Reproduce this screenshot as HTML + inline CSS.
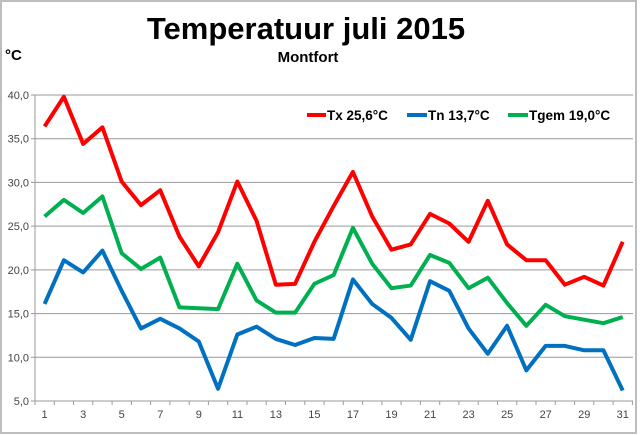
<!DOCTYPE html>
<html><head><meta charset="utf-8"><style>
html,body{margin:0;padding:0;background:#fff}
svg{display:block;font-family:"Liberation Sans",Arial,sans-serif}
</style></head><body>
<svg width="640" height="435" viewBox="0 0 640 435" xmlns="http://www.w3.org/2000/svg">
<rect x="0" y="0" width="640" height="435" fill="#fff"/>
<rect x="1" y="1" width="635" height="432" fill="none" stroke="#bdbdbd" stroke-width="2"/>
<text x="306" y="39" text-anchor="middle" font-size="31" font-weight="bold" fill="#000">Temperatuur juli 2015</text>
<text x="308" y="62" text-anchor="middle" font-size="15" font-weight="bold" fill="#000">Montfort</text>
<text x="5" y="60" font-size="15" font-weight="bold" fill="#000">°C</text>
<g stroke="#9a9a9a" stroke-width="1">
<line x1="35" y1="95" x2="633" y2="95"/><line x1="35" y1="138.7" x2="633" y2="138.7"/>
<line x1="35" y1="182.4" x2="633" y2="182.4"/><line x1="35" y1="226.1" x2="633" y2="226.1"/>
<line x1="35" y1="269.9" x2="633" y2="269.9"/><line x1="35" y1="313.6" x2="633" y2="313.6"/>
<line x1="35" y1="357.3" x2="633" y2="357.3"/><line x1="35" y1="401" x2="633" y2="401"/>
<line x1="35" y1="95" x2="35" y2="401"/>
</g>
<g stroke="#9a9a9a" stroke-width="1" id="ticks">
<path d="M31 95h4M31 138.7h4M31 182.4h4M31 226.1h4M31 269.9h4M31 313.6h4M31 357.3h4M31 401h4"/>
<path d="M35 401v4M54.3 401v4M73.5 401v4M92.8 401v4M112.1 401v4M131.4 401v4M150.6 401v4M169.9 401v4M189.2 401v4M208.4 401v4M227.7 401v4M247 401v4M266.2 401v4M285.5 401v4M304.8 401v4M324.1 401v4M343.3 401v4M362.6 401v4M381.9 401v4M401.1 401v4M420.4 401v4M439.7 401v4M458.9 401v4M478.2 401v4M497.5 401v4M516.8 401v4M536 401v4M555.3 401v4M574.6 401v4M593.8 401v4M613.1 401v4M632.4 401v4"/>
</g>
<g font-size="11" fill="#444" text-anchor="end">
<text x="29" y="99">40,0</text><text x="29" y="142.7">35,0</text><text x="29" y="186.4">30,0</text>
<text x="29" y="230.1">25,0</text><text x="29" y="273.9">20,0</text><text x="29" y="317.6">15,0</text>
<text x="29" y="361.3">10,0</text><text x="29" y="405">5,0</text>
</g>
<g font-size="11" fill="#444" text-anchor="middle">
<text x="44.6" y="418">1</text><text x="83.2" y="418">3</text><text x="121.7" y="418">5</text>
<text x="160.3" y="418">7</text><text x="198.8" y="418">9</text><text x="237.4" y="418">11</text>
<text x="275.9" y="418">13</text><text x="314.4" y="418">15</text><text x="353" y="418">17</text>
<text x="391.5" y="418">19</text><text x="430.1" y="418">21</text><text x="468.6" y="418">23</text>
<text x="507.2" y="418">25</text><text x="545.7" y="418">27</text><text x="584.3" y="418">29</text>
<text x="622.8" y="418">31</text>
</g>
<g transform="translate(44.6,444.7) scale(19.27,-8.743)" fill="none" stroke-linejoin="round">
<polyline vector-effect="non-scaling-stroke" stroke="#ff0000" stroke-width="4" points="0,36.4 1,39.8 2,34.4 3,36.3 4,30.1 5,27.4 6,29.1 7,23.8 8,20.4 9,24.3 10,30.1 11,25.6 12,18.3 13,18.4 14,23.2 15,27.3 16,31.2 17,26.1 18,22.3 19,22.9 20,26.4 21,25.3 22,23.2 23,27.9 24,22.9 25,21.1 26,21.1 27,18.3 28,19.2 29,18.2 30,23.2"/>
<polyline vector-effect="non-scaling-stroke" stroke="#0070c0" stroke-width="4" points="0,16.1 1,21.1 2,19.7 3,22.2 4,17.6 5,13.3 6,14.4 7,13.3 8,11.8 9,6.4 10,12.6 11,13.5 12,12.1 13,11.4 14,12.2 15,12.1 16,18.9 17,16.1 18,14.5 19,12.0 20,18.7 21,17.6 22,13.3 23,10.4 24,13.6 25,8.5 26,11.3 27,11.3 28,10.8 29,10.8 30,6.2"/>
<polyline vector-effect="non-scaling-stroke" stroke="#00b050" stroke-width="4" points="0,26.1 1,28.0 2,26.5 3,28.4 4,21.9 5,20.1 6,21.4 7,15.7 8,15.6 9,15.5 10,20.7 11,16.5 12,15.1 13,15.1 14,18.4 15,19.4 16,24.8 17,20.7 18,17.9 19,18.2 20,21.7 21,20.8 22,17.9 23,19.1 24,16.2 25,13.6 26,16.0 27,14.7 28,14.3 29,13.9 30,14.6"/>
</g>
<g stroke-width="4">
<line x1="307" y1="115" x2="326" y2="115" stroke="#ff0000"/>
<line x1="407" y1="115" x2="427" y2="115" stroke="#0070c0"/>
<line x1="508" y1="115" x2="528" y2="115" stroke="#00b050"/>
</g>
<g font-size="13.5" font-weight="bold" fill="#000">
<text x="327" y="120">Tx 25,6°C</text>
<text x="428" y="120">Tn 13,7°C</text>
<text x="529" y="120">Tgem 19,0°C</text>
</g>
</svg>
</body></html>
